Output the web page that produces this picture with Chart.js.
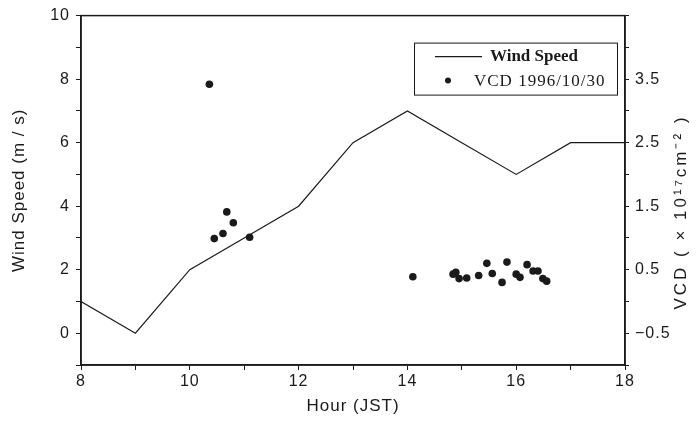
<!DOCTYPE html>
<html>
<head>
<meta charset="utf-8">
<script src="https://cdn.jsdelivr.net/npm/chart.js@4/dist/chart.umd.min.js"></script>
<style>
  html, body { margin: 0; padding: 0; background: #fff; }
  #wrap { width: 697px; height: 429px; }
</style>
</head>
<body>
<div id="wrap"><canvas id="c" width="697" height="429"></canvas></div>
<script>
// Hourly wind speed (m/s)
const windHours = [8, 9, 10, 11, 12, 13, 14, 15, 16, 17, 18];
const windSpeed = [1.0, 0.0, 2.0, 3.0, 4.0, 6.0, 7.0, 6.0, 5.0, 6.0, 6.0];

// Vertical column density, 1996/10/30 (x10^17 cm^-2)
const vcdHours  = [10.36, 10.68, 10.80, 10.45, 10.61, 11.10,
                   14.10, 14.84, 14.89, 14.95, 15.09, 15.31, 15.46, 15.56, 15.74,
                   15.83, 16.00, 16.07, 16.20, 16.31, 16.40, 16.49, 16.56];
const vcdValues = [3.42, 1.41, 1.24, 0.99, 1.07, 1.01,
                   0.39, 0.43, 0.46, 0.36, 0.37, 0.41, 0.60, 0.44, 0.30,
                   0.62, 0.43, 0.38, 0.58, 0.48, 0.48, 0.36, 0.32];

// Axis label values
const hourLabels = [8, 10, 12, 14, 16, 18];
const windLabels = [0, 2, 4, 6, 8, 10];
const vcdLabels  = [-0.5, 0.5, 1.5, 2.5, 3.5];

const seriesNames = ['Wind Speed', 'VCD 1996/10/30'];
const xTitle = 'Hour (JST)';
const yTitle = 'Wind Speed (m / s)';
const y2Title = 'VCD ( \u00d7 10\u00b9\u2077cm\u207b\u00b2 )';

const INK = '#1a1a1a';
const SANS = "'Liberation Sans', Arial, Helvetica, sans-serif";
const TICK_FONT = { family: SANS, size: 16 };
const TITLE_FONT = { family: SANS, size: 17 };

function fmtVcd(v) {
  const s = Math.abs(v).toFixed(1);
  return (v < 0 ? '\u2212' : '') + s;
}

// Slightly open letter spacing for all axis text
const spacingPlugin = {
  id: 'spacing',
  beforeDraw(chart) { chart.ctx.letterSpacing = '1px'; }
};

// Frame around the plot area
const framePlugin = {
  id: 'frame',
  afterDatasetsDraw(chart) {
    const { ctx, chartArea: a } = chart;
    ctx.save();
    ctx.strokeStyle = INK;
    ctx.lineWidth = 1.5;
    ctx.strokeRect(a.left, a.top, a.right - a.left, a.bottom - a.top);
    ctx.restore();
  }
};

// Boxed legend in the upper right of the plot
const boxLegendPlugin = {
  id: 'boxLegend',
  afterDraw(chart) {
    const { ctx, chartArea: a } = chart;
    const left = a.right - 211, top = a.top + 27, w = 203, h = 52;
    ctx.save();
    ctx.letterSpacing = '0px';
    ctx.fillStyle = '#fff';
    ctx.fillRect(left, top, w, h);
    ctx.strokeStyle = INK;
    ctx.lineWidth = 1;
    ctx.strokeRect(left + 0.5, top + 0.5, w, h);
    ctx.textBaseline = 'middle';
    ctx.textAlign = 'left';
    ctx.fillStyle = INK;
    // line entry
    ctx.beginPath();
    ctx.moveTo(left + 21, top + 14);
    ctx.lineTo(left + 68, top + 14);
    ctx.lineWidth = 1.2;
    ctx.stroke();
    ctx.font = "bold 17px 'Liberation Serif', 'Times New Roman', serif";
    ctx.fillText(chart.data.datasets[0].label, left + 76, top + 14);
    // point entry
    ctx.beginPath();
    ctx.arc(left + 34, top + 38, 3, 0, Math.PI * 2);
    ctx.fill();
    ctx.font = "17px 'Liberation Serif', 'Times New Roman', serif";
    ctx.letterSpacing = '1px';
    ctx.fillText(chart.data.datasets[1].label, left + 60, top + 39);
    ctx.restore();
  }
};

// Right-hand axis title, reading upward
const rightTitlePlugin = {
  id: 'rightTitle',
  afterDraw(chart) {
    const { ctx, chartArea: a } = chart;
    ctx.save();
    ctx.translate(681, 212);
    ctx.rotate(-Math.PI / 2);
    ctx.font = "17px " + SANS;
    ctx.letterSpacing = '3px';
    ctx.fillStyle = INK;
    ctx.textAlign = 'center';
    ctx.textBaseline = 'middle';
    ctx.fillText(y2Title, 0, 0);
    ctx.restore();
  }
};

new Chart(document.getElementById('c'), {
  data: {
    datasets: [
      {
        type: 'line',
        label: seriesNames[0],
        data: windHours.map((h, i) => ({ x: h, y: windSpeed[i] })),
        borderColor: INK,
        borderWidth: 1.2,
        pointRadius: 0,
        tension: 0,
        xAxisID: 'x',
        yAxisID: 'y'
      },
      {
        type: 'scatter',
        label: seriesNames[1],
        data: vcdHours.map((h, i) => ({ x: h, y: vcdValues[i] })),
        backgroundColor: INK,
        borderColor: INK,
        pointRadius: 3.8,
        pointBorderWidth: 0,
        xAxisID: 'x',
        yAxisID: 'y2'
      }
    ]
  },
  options: {
    responsive: false,
    animation: false,
    layout: { padding: { top: 15, left: 0, right: 0, bottom: 0 } },
    plugins: { legend: { display: false }, tooltip: { enabled: false } },
    scales: {
      x: {
        type: 'linear',
        position: 'bottom',
        min: 8, max: 18,
        ticks: {
          stepSize: 1,
          color: INK, font: TICK_FONT, padding: 2, maxRotation: 0, autoSkip: false,
          callback: v => hourLabels.includes(v) ? String(v) : ''
        },
        grid: { drawOnChartArea: false, tickLength: 5, color: INK, tickWidth: 1 },
        border: { color: INK, width: 1.5 },
        title: { display: true, text: xTitle, color: INK, font: TITLE_FONT, padding: { top: 0, bottom: 12 } },
        afterFit(s) { s.height = 64; }
      },
      y: {
        type: 'linear',
        position: 'left',
        min: -1, max: 10,
        ticks: {
          stepSize: 1,
          color: INK, font: TICK_FONT, padding: 6, autoSkip: false,
          callback: v => windLabels.includes(v) ? String(v) : ''
        },
        grid: { drawOnChartArea: false, tickLength: 5, color: INK, tickWidth: 1 },
        border: { color: INK, width: 1.5 },
        title: { display: true, text: yTitle, color: INK, font: TITLE_FONT, padding: { top: 9, bottom: 0 } },
        afterFit(s) { s.width = 81; }
      },
      y2: {
        type: 'linear',
        position: 'right',
        min: -1, max: 4.5,
        ticks: {
          stepSize: 0.5,
          color: INK, font: TICK_FONT, padding: 6, autoSkip: false,
          callback: v => vcdLabels.some(t => Math.abs(t - v) < 1e-6) ? fmtVcd(v) : ''
        },
        grid: { drawOnChartArea: false, tickLength: 4, color: INK, tickWidth: 1 },
        border: { color: INK, width: 1.5 },
        afterFit(s) { s.width = 72; }
      }
    }
  },
  plugins: [spacingPlugin, framePlugin, boxLegendPlugin, rightTitlePlugin]
});
</script>
</body>
</html>
